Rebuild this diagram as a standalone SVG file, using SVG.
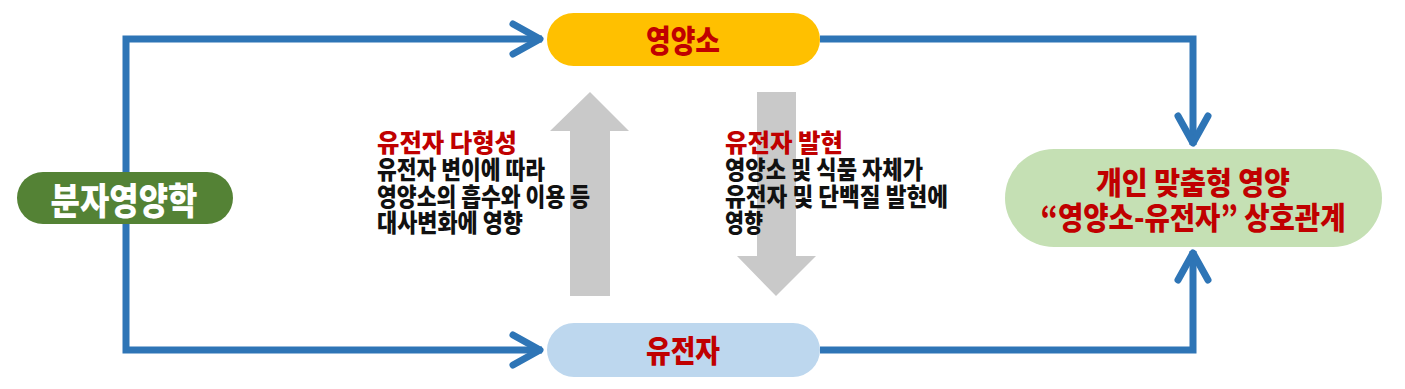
<svg xmlns="http://www.w3.org/2000/svg" width="1405" height="389" viewBox="0 0 1405 389">
<style>
.ln{fill:none;stroke:#2E75B6;stroke-width:7;stroke-linejoin:miter}
.tx{font-family:"Noto Sans CJK KR","Noto Sans",sans-serif;font-weight:900}
.red{fill:#C00000}
.blk{fill:#111111}
.gray{fill:#C9C9C9}
</style>
<defs>
<marker id="arr" markerUnits="userSpaceOnUse" viewBox="-36 -22 42 44" markerWidth="42" markerHeight="44" refX="0" refY="0" orient="auto">
<path d="M-29,-15 L-2,0 L-29,15" fill="none" stroke="#2E75B6" stroke-width="7" stroke-linecap="round" stroke-linejoin="round"/>
</marker>
</defs>
<rect width="1405" height="389" fill="#FFFFFF"/>
<g id="connectors">
<path class="ln" d="M126,198 V39 H542" marker-end="url(#arr)"/>
<path class="ln" d="M126,198 V350 H542" marker-end="url(#arr)"/>
<path class="ln" d="M820,39 H1193 V145" marker-end="url(#arr)"/>
<path class="ln" d="M820,350 H1193 V251" marker-end="url(#arr)"/>
</g>
<g id="arrow-up">
<polygon class="gray" points="590,92 629,131 610,131 610,296 570,296 570,131 550,131"/>
</g>
<g id="arrow-down">
<polygon class="gray" points="757,92 796,92 796,256 816,256 776,296 737,256 757,256"/>
</g>
<g id="node-molecular">
<rect x="17" y="172" width="216" height="52" rx="26" fill="#548235"/>
<text class="tx" x="124" y="215" font-size="37" fill="#FFFFFF" text-anchor="middle" textLength="147" lengthAdjust="spacingAndGlyphs">분자영양학</text>
</g>
<g id="node-nutrient">
<rect x="547" y="13" width="273" height="53" rx="26.5" fill="#FFC000"/>
<text class="tx red" x="683" y="52" font-size="31" text-anchor="middle" textLength="74" lengthAdjust="spacingAndGlyphs">영양소</text>
</g>
<g id="node-gene">
<rect x="547" y="323" width="273" height="54" rx="27" fill="#BDD7EE"/>
<text class="tx red" x="683" y="362" font-size="31" text-anchor="middle" textLength="74" lengthAdjust="spacingAndGlyphs">유전자</text>
</g>
<g id="node-result">
<rect x="1005" y="149" width="377" height="98" rx="49" fill="#C5E0B4"/>
<text class="tx red" x="1193" y="194" font-size="31" text-anchor="middle" textLength="194" lengthAdjust="spacingAndGlyphs">개인 맞춤형 영양</text>
<text class="tx red" x="1193" y="229" font-size="31" text-anchor="middle" textLength="305" lengthAdjust="spacingAndGlyphs">“영양소-유전자” 상호관계</text>
</g>
<g id="label-polymorphism">
<text class="tx red" x="377" y="152" font-size="25" textLength="140" lengthAdjust="spacingAndGlyphs">유전자 다형성</text>
<text class="tx blk" x="377" y="179" font-size="25" textLength="168" lengthAdjust="spacingAndGlyphs">유전자 변이에 따라</text>
<text class="tx blk" x="377" y="206" font-size="25" textLength="213" lengthAdjust="spacingAndGlyphs">영양소의 흡수와 이용 등</text>
<text class="tx blk" x="377" y="232" font-size="25" textLength="146" lengthAdjust="spacingAndGlyphs">대사변화에 영향</text>
</g>
<g id="label-expression">
<text class="tx red" x="725" y="152" font-size="25" textLength="118" lengthAdjust="spacingAndGlyphs">유전자 발현</text>
<text class="tx blk" x="725" y="179" font-size="25" textLength="198" lengthAdjust="spacingAndGlyphs">영양소 및 식품 자체가</text>
<text class="tx blk" x="725" y="206" font-size="25" textLength="223" lengthAdjust="spacingAndGlyphs">유전자 및 단백질 발현에</text>
<text class="tx blk" x="725" y="232" font-size="25" textLength="38" lengthAdjust="spacingAndGlyphs">영향</text>
</g>
</svg>
